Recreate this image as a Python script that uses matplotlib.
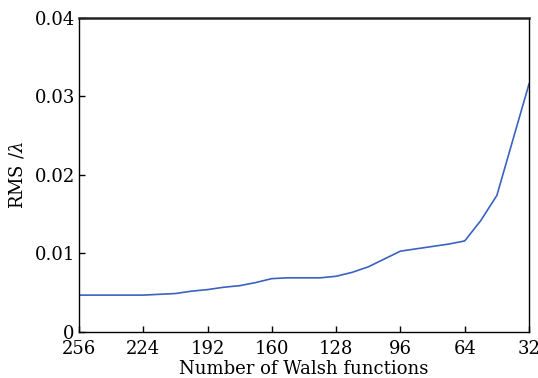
import matplotlib
matplotlib.use("Agg")
from matplotlib import pyplot as plt

plt.rcParams['font.family'] = 'DejaVu Serif'
plt.rcParams['mathtext.fontset'] = 'dejavuserif'

# RMS error against number of Walsh functions kept
walsh = [256, 248, 240, 232, 224, 216, 208, 200, 192, 184, 176, 168, 160, 152, 144,
         136, 128, 120, 112, 104, 96, 88, 80, 72, 64, 56, 48, 40, 32]
rms = [0.0047, 0.0047, 0.0047, 0.0047, 0.0047, 0.0048, 0.0049, 0.0052, 0.0054,
       0.0057, 0.0059, 0.0063, 0.0068, 0.0069, 0.0069, 0.0069, 0.0071, 0.0076,
       0.0083, 0.0093, 0.0103, 0.0106, 0.0109, 0.0112, 0.0116, 0.0142, 0.0174,
       0.0245, 0.0316]
xticks = [256, 224, 192, 160, 128, 96, 64, 32]
yticks = [0, 0.01, 0.02, 0.03, 0.04]
yticklabels = ['0', '0.01', '0.02', '0.03', '0.04']

fig = plt.figure(figsize=(5.38, 3.78), dpi=100)
ax = fig.add_axes([0.1468, 0.1217, 0.8365, 0.8307])

ax.plot(walsh, rms, color='#3a62c0', linewidth=1.2)

ax.set_xlim(256, 32)
ax.set_ylim(0, 0.04)
ax.set_xticks(xticks)
ax.set_xticklabels([str(t) for t in xticks])
ax.set_yticks(yticks)
ax.set_yticklabels(yticklabels)
ax.tick_params(direction='in', length=4, width=1, labelsize=13)
ax.tick_params(axis='x', pad=6)
ax.tick_params(axis='y', pad=3)

for s in ax.spines.values():
    s.set_linewidth(1.0)
ax.spines['top'].set_linewidth(1.8)
ax.spines['top'].set_color('#222222')

ax.set_xlabel('Number of Walsh functions', fontsize=13, labelpad=1)
ax.set_ylabel(r'RMS /$\lambda$', fontsize=13, labelpad=6)

fig.savefig('out.png', dpi=100)
